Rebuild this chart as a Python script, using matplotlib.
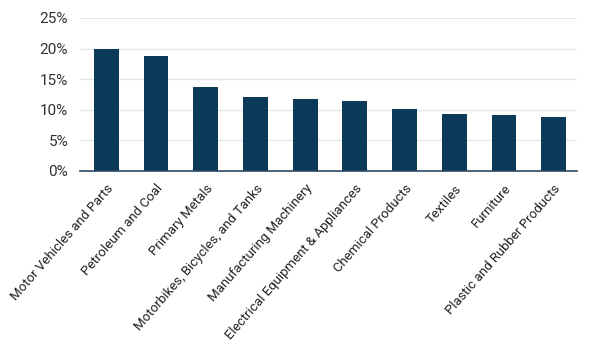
import matplotlib
matplotlib.use("Agg")
import matplotlib.pyplot as plt
from matplotlib.ticker import FuncFormatter

industries = [
    "Motor Vehicles and Parts",
    "Petroleum and Coal",
    "Primary Metals",
    "Motorbikes, Bicycles, and Tanks",
    "Manufacturing Machinery",
    "Electrical Equipment & Appliances",
    "Chemical Products",
    "Textiles",
    "Furniture",
    "Plastic and Rubber Products",
]
shares = [19.9, 18.85, 13.8, 12.1, 11.8, 11.4, 10.2, 9.3, 9.1, 8.9]

plt.rcParams["font.family"] = ["Roboto", "DejaVu Sans"]

fig = plt.figure(figsize=(5.94, 3.46), dpi=100)
ax = fig.add_axes([0.1347, 0.5058, 0.8367, 0.4422])

x = list(range(len(industries)))
ax.bar(x, shares, width=0.5, color="#0b3a59", zorder=2)

ax.set_ylim(0, 25)
ax.set_xlim(-0.53, 9.47)
ax.set_yticks(range(0, 26, 5))
ax.yaxis.set_major_formatter(FuncFormatter(lambda v, _: "{:.0f}%".format(v)))
ax.grid(axis="y", color="#e3e6ea", linewidth=1.0, zorder=0)

for side in ["top", "right", "left"]:
    ax.spines[side].set_visible(False)
ax.spines["bottom"].set_color("#2c4a63")
ax.spines["bottom"].set_linewidth(1.2)
ax.spines["bottom"].set_zorder(3)

ax.tick_params(axis="y", length=0, labelsize=11, colors="#333333", pad=8.5)
ax.tick_params(axis="x", length=0, labelsize=9.5, colors="#222222", pad=8)
ax.set_xticks(x)
ax.set_xticklabels(industries, rotation=49, ha="right", rotation_mode="anchor")

fig.savefig("out.png", dpi=100, facecolor="white")
